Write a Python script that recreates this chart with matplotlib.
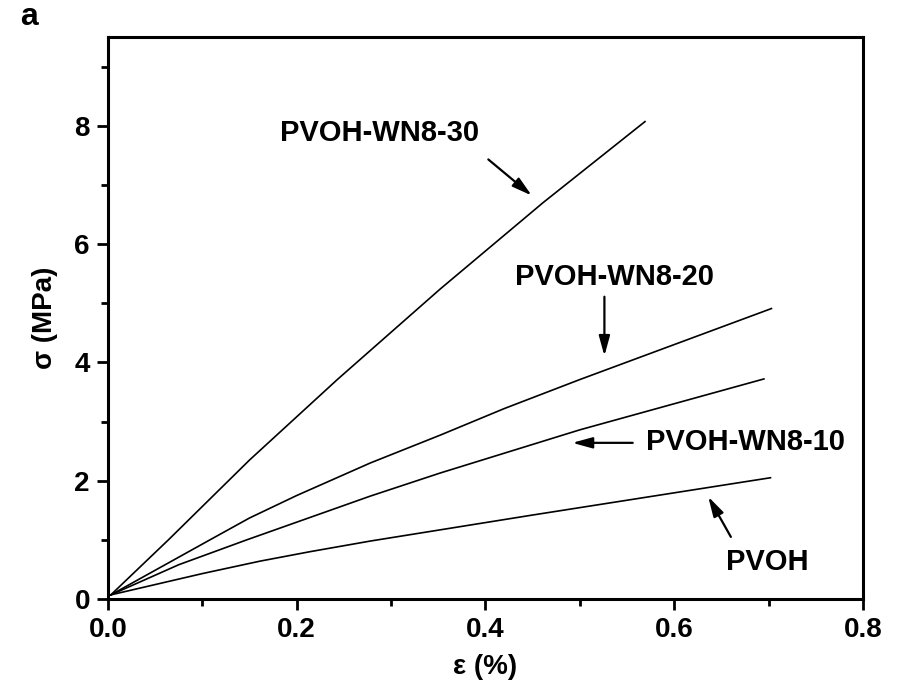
import matplotlib
matplotlib.use("Agg")
import matplotlib.pyplot as plt
from matplotlib.ticker import MultipleLocator

plt.rcParams["font.family"] = ["Liberation Sans", "DejaVu Sans"]
plt.rcParams["font.weight"] = "bold"

# ── Data ───────────────────────────────────────────────────────────
wn30_x = [0.003, 0.064, 0.15, 0.243, 0.352, 0.461, 0.569]
wn30_y = [0.07, 1.00, 2.35, 3.71, 5.24, 6.70, 8.07]

wn20_x = [0.003, 0.108, 0.15, 0.2, 0.278, 0.352, 0.42, 0.5, 0.703]
wn20_y = [0.07, 1.00, 1.37, 1.75, 2.30, 2.77, 3.22, 3.71, 4.91]

wn10_x = [0.003, 0.075, 0.147, 0.278, 0.352, 0.5, 0.695]
wn10_y = [0.07, 0.58, 1.00, 1.74, 2.13, 2.86, 3.72]

pvoh_x = [0.003, 0.1, 0.161, 0.214, 0.278, 0.45, 0.702]
pvoh_y = [0.07, 0.43, 0.64, 0.80, 0.98, 1.42, 2.05]

fig = plt.figure(figsize=(9.03, 6.98), dpi=100)
ax = fig.add_axes([0.1196, 0.1418, 0.8361, 0.8052])

for xs, ys in [(wn30_x, wn30_y), (wn20_x, wn20_y),
               (wn10_x, wn10_y), (pvoh_x, pvoh_y)]:
    ax.plot(xs, ys, color="black", lw=1.2)

ax.set_xlim(0, 0.8)
ax.set_ylim(0, 9.5)
ax.xaxis.set_major_locator(MultipleLocator(0.2))
ax.xaxis.set_minor_locator(MultipleLocator(0.1))
ax.yaxis.set_major_locator(MultipleLocator(2))
ax.yaxis.set_minor_locator(MultipleLocator(1))
ax.xaxis.set_major_formatter(plt.FuncFormatter(lambda v, p: f"{v:.1f}"))

for s in ax.spines.values():
    s.set_linewidth(2.2)
ax.tick_params(which="major", direction="out", length=8, width=2,
               labelsize=20, pad=5)
ax.tick_params(which="minor", direction="out", length=5, width=2)
for lab in ax.get_xticklabels() + ax.get_yticklabels():
    lab.set_fontweight("bold")

ax.set_xlabel("ε (%)", fontsize=20, fontweight="bold", labelpad=8)
ax.set_ylabel("σ (MPa)", fontsize=20, fontweight="bold", labelpad=12)

# ── Labels with arrows ─────────────────────────────────────────────
arrow = dict(arrowstyle="-|>,head_length=0.8,head_width=0.22",
             color="black", lw=1.6, mutation_scale=15,
             shrinkA=0, shrinkB=0)
ax.text(0.288, 7.88, "PVOH-WN8-30", ha="center", va="center",
        fontsize=21, fontweight="bold")
ax.annotate("", xy=(0.449, 6.82), xytext=(0.403, 7.43), arrowprops=arrow)

ax.text(0.537, 5.45, "PVOH-WN8-20", ha="center", va="center",
        fontsize=21, fontweight="bold")
ax.annotate("", xy=(0.526, 4.11), xytext=(0.526, 5.11), arrowprops=arrow)

ax.text(0.675, 2.66, "PVOH-WN8-10", ha="center", va="center",
        fontsize=21, fontweight="bold")
ax.annotate("", xy=(0.492, 2.64), xytext=(0.556, 2.64), arrowprops=arrow)

ax.text(0.699, 0.63, "PVOH", ha="center", va="center",
        fontsize=21, fontweight="bold")
ax.annotate("", xy=(0.636, 1.73), xytext=(0.660, 1.05), arrowprops=arrow)

fig.text(0.022, 0.975, "a", ha="left", va="center", fontsize=23,
         fontweight="bold")

fig.savefig("out.png", dpi=100)
